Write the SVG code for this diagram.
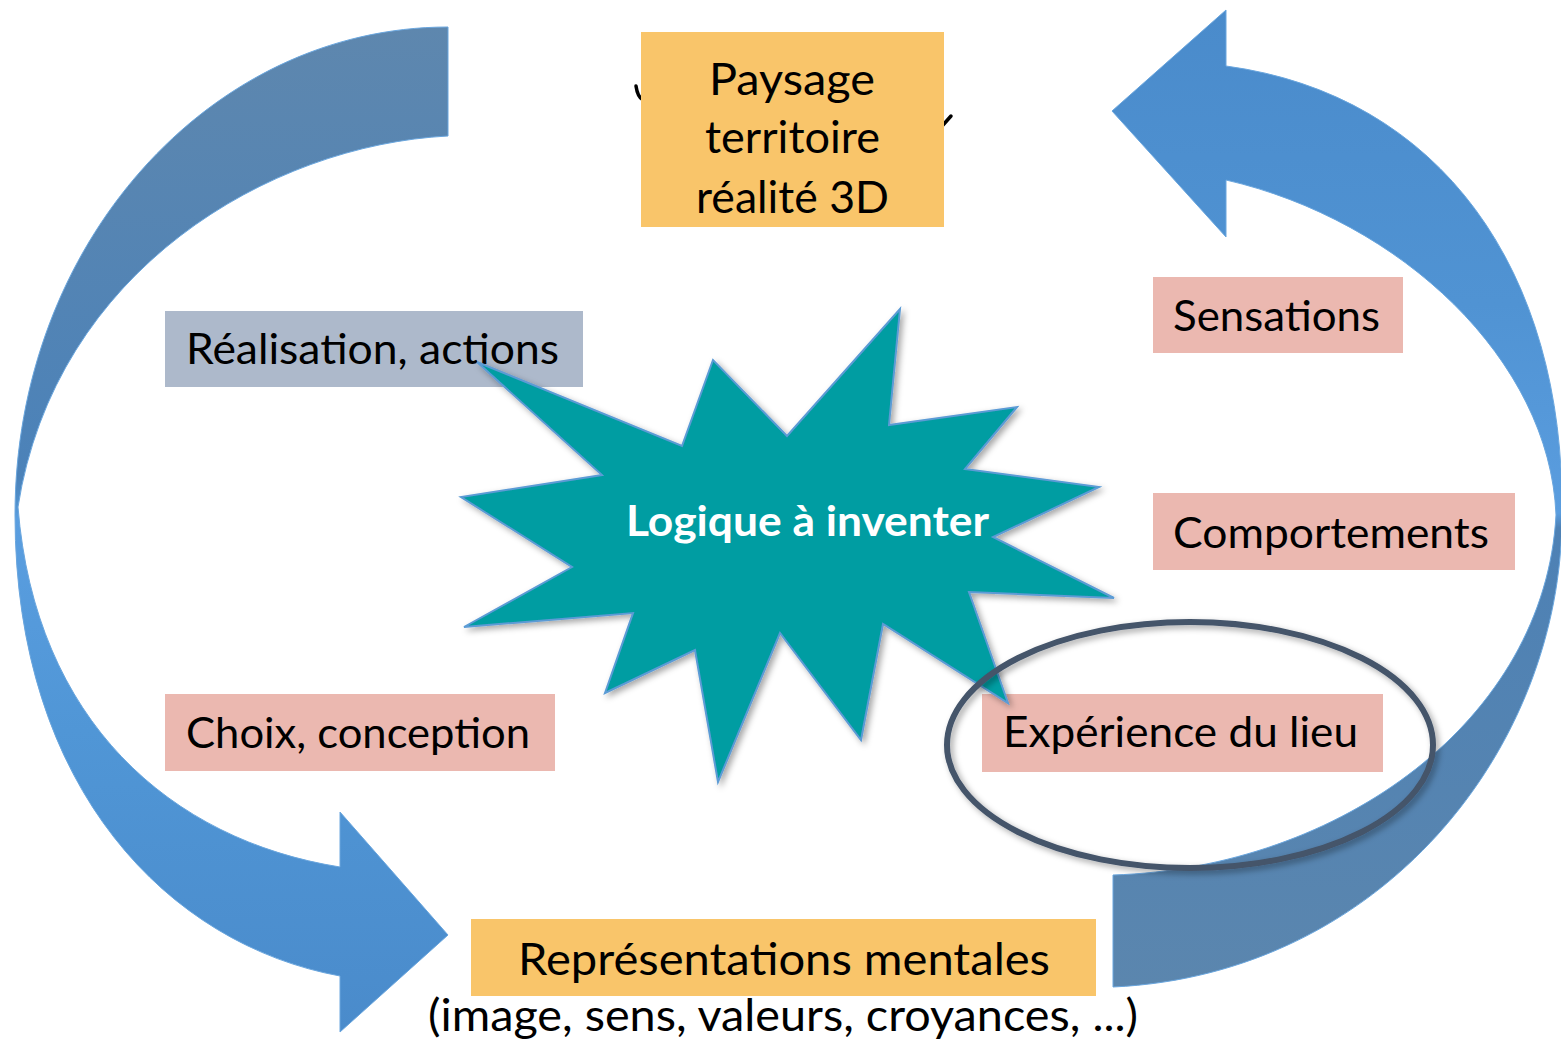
<svg xmlns="http://www.w3.org/2000/svg" width="1561" height="1041" viewBox="0 0 1561 1041">
<defs>
<style>
.lbl{font-family:Lato,"Open Sans","Liberation Sans",sans-serif;font-size:43px;fill:#000}
.my{font-family:Lato,"Open Sans","Liberation Sans",sans-serif;font-size:44px;fill:#000}
.star-t{font-family:Lato,"Open Sans","Liberation Sans",sans-serif;font-size:42px;font-weight:bold;fill:#fff}
.pink{fill:#ebb8b0}
.yel{fill:#f9c56a}
.gray{fill:#adb9cb}
.arrow{stroke:#6aa6de;stroke-width:1;stroke-linejoin:miter}
.mark{fill:none;stroke:#000;stroke-width:3.5;stroke-linecap:round}
</style>
<linearGradient id="gL" gradientUnits="userSpaceOnUse" x1="0" y1="25" x2="0" y2="1032">
<stop offset="0" stop-color="#5e87ae"/>
<stop offset="0.45" stop-color="#4b82b9"/>
<stop offset="0.474" stop-color="#5090cc"/>
<stop offset="0.49" stop-color="#5a9ee0"/>
<stop offset="0.7" stop-color="#5096d6"/>
<stop offset="1" stop-color="#4a8bcb"/>
</linearGradient>
<linearGradient id="gR" gradientUnits="userSpaceOnUse" x1="0" y1="10" x2="0" y2="987">
<stop offset="0" stop-color="#4a8bcb"/>
<stop offset="0.3" stop-color="#5093d3"/>
<stop offset="0.515" stop-color="#5a9ddf"/>
<stop offset="0.53" stop-color="#4d81b5"/>
<stop offset="1" stop-color="#5b86ae"/>
</linearGradient>
<filter id="sh" x="-10%" y="-10%" width="130%" height="130%">
<feDropShadow dx="3" dy="3" stdDeviation="3" flood-color="#000" flood-opacity="0.35"/>
</filter>
</defs>
<rect width="1561" height="1041" fill="#fff"/>

<g id="connectors">
<path id="arrow-left" class="arrow" fill="url(#gL)" d="M448,27 C209,27 15,245 15,515 C15,790 170,945 340,976 L340,1032 L448,935 L340,812 L340,867 C170,840 35,720 18,507 C55,270 270,145 448,136 Z"/>
<path id="arrow-right" class="arrow" fill="url(#gR)" d="M1112,111 L1226,10 L1226,66 C1440,95 1565,270 1562,515 C1562,750 1380,975 1113,987 L1113,875 C1340,868 1545,720 1556,515 C1550,360 1400,220 1226,180 L1226,237 Z"/>
</g>

<g id="paysage">
<path class="mark" d="M636,86 C637,93 639,98 643,100"/>
<path class="mark" d="M943,125 L951,116"/>
<rect class="yel" x="641" y="32" width="303" height="195"/>
<text class="my" x="709" y="95" textLength="166" lengthAdjust="spacingAndGlyphs">Paysage</text>
<text class="my" x="705" y="153" textLength="175" lengthAdjust="spacingAndGlyphs">territoire</text>
<text class="my" x="696" y="213" textLength="193" lengthAdjust="spacingAndGlyphs">réalité 3D</text>
</g>

<g id="realisation">
<rect class="gray" x="165" y="311" width="418" height="76"/>
<text class="lbl" x="186" y="364" textLength="373" lengthAdjust="spacingAndGlyphs">Réalisation, actions</text>
</g>

<g id="sensations">
<rect class="pink" x="1153" y="277" width="250" height="76"/>
<text class="lbl" x="1173" y="331" textLength="207" lengthAdjust="spacingAndGlyphs">Sensations</text>
</g>

<g id="comportements">
<rect class="pink" x="1153" y="493" width="362" height="77"/>
<text class="lbl" x="1173" y="548" textLength="316" lengthAdjust="spacingAndGlyphs">Comportements</text>
</g>

<g id="choix">
<rect class="pink" x="165" y="694" width="390" height="77"/>
<text class="lbl" x="186" y="748" textLength="344" lengthAdjust="spacingAndGlyphs">Choix, conception</text>
</g>

<g id="experience">
<rect class="pink" x="982" y="694" width="401" height="78"/>
<text class="lbl" x="1003" y="747" textLength="355" lengthAdjust="spacingAndGlyphs">Expérience du lieu</text>
</g>

<g id="representations">
<rect class="yel" x="471" y="919" width="625" height="77"/>
<text class="my" x="518" y="975" textLength="532" lengthAdjust="spacingAndGlyphs">Représentations mentales</text>
<text class="my" x="428" y="1031" textLength="710" lengthAdjust="spacingAndGlyphs">(image, sens, valeurs, croyances, ...)</text>
</g>

<g id="logique">
<polygon filter="url(#sh)" fill="#009da2" stroke="#5b9bd5" stroke-width="2" stroke-linejoin="miter" points="900,309 889,425 1017,407 965,469 1099,487 993,537 1114,598 969,592 1008,703 883,624 861,740 780,633 718,782 695,650 605,693 633,613 464,627 572,567 461,497 602,475 477,362 682,446 713,360 787,436"/>
<text class="star-t" x="626" y="536" textLength="363" lengthAdjust="spacingAndGlyphs">Logique à inventer</text>
</g>

<g id="highlight">
<ellipse cx="1190" cy="745" rx="243" ry="123" fill="none" stroke="#44546a" stroke-width="6" filter="url(#sh)"/>
</g>
</svg>
